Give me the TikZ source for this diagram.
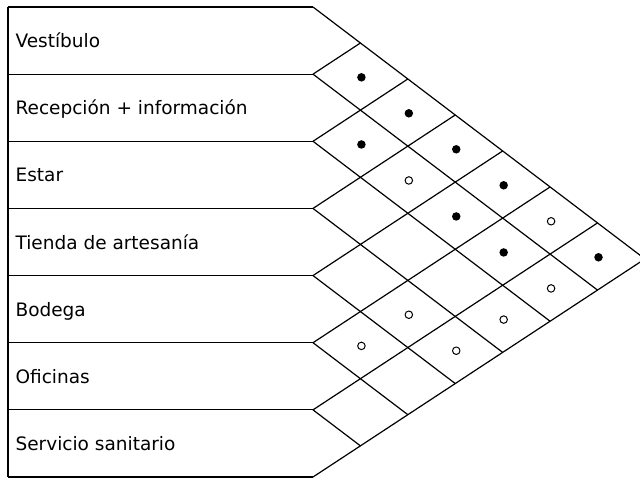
\documentclass[tikz,border=0pt]{standalone}
\usepackage{fontspec}
\setmainfont{DejaVu Sans}
\begin{document}
\begin{tikzpicture}[x=1pt,y=-1pt,line width=1.2pt,line join=round,
  lbl/.style={anchor=base west,inner sep=0pt,font=\fontsize{18.5}{20}\selectfont},
  full/.style={circle,fill=black,draw=none,minimum size=8.5pt,inner sep=0pt},
  hollow/.style={circle,draw=black,line width=1pt,fill=white,minimum size=7.5pt,inner sep=0pt}]
\useasboundingbox (0,0) rectangle (640,479);
\clip (0,0) rectangle (640,479);
\def\xr{313}
\def\sa{0.759}
\def\sb{0.657}
\def\h{67.142857}
% row boundary lines
\foreach \k in {0,...,7}{
  \pgfmathsetmacro\yk{7+\h*\k}
  \coordinate (p\k) at (\xr,\yk);
  \coordinate (l\k) at (8,\yk);
  \draw (l\k) -- (p\k);
}
\draw (l0) -- (l7);
% down-right diagonals
\foreach \k in {0,...,6}{
  \pgfmathsetmacro\dx{(470-\h*\k)/(\sa+\sb)}
  \draw (p\k) -- ++({\dx},{\sa*\dx});
}
% up-right diagonals
\foreach \k in {1,...,7}{
  \pgfmathsetmacro\dx{(\h*\k)/(\sa+\sb)}
  \draw (p\k) -- ++({\dx},{-\sb*\dx});
}
% labels
\foreach \t [count=\i] in {Vestíbulo,Recepción + información,Estar,Tienda de artesanía,Bodega,Oficinas,Servicio sanitario}{
  \pgfmathsetmacro\ym{7+\h*(\i-0.5)+7}
  \node[lbl] (t\i) at (15,\ym) {\t};
}
% cells
\foreach \i/\j/\s in {1/2/full,1/3/full,2/3/full,1/4/full,1/5/full,2/5/full,2/6/full,1/7/full,
  2/4/hollow,1/6/hollow,2/7/hollow,4/6/hollow,3/7/hollow,5/6/hollow,4/7/hollow}{
  \pgfmathsetmacro\dx{\h*(\j-\i)/(\sa+\sb)+1}
  \pgfmathsetmacro\cy{7+\h*(\i-0.5)+\sa*\dx}
  \pgfmathsetmacro\cx{\xr+\dx}
  \node[\s] (c\i\j) at (\cx,\cy) {};
}
\end{tikzpicture}
\end{document}
